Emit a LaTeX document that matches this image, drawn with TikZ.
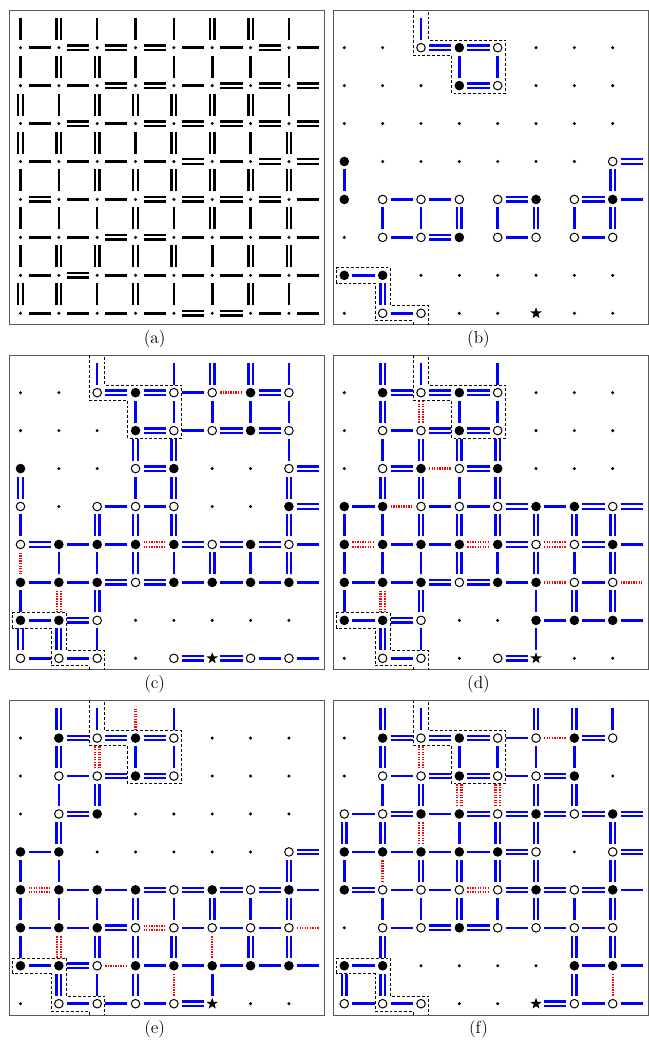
\documentclass[tikz,border=0pt]{standalone}
\usetikzlibrary{shapes.geometric}
\tikzset{
  sedge/.style={line width=1.9pt},
  dedge/.style={line width=1.75pt},
  redge/.style={draw=red, line width=1.8pt, dash pattern=on 1pt off 0.9pt},
  rdedge/.style={draw=red, line width=1.65pt, dash pattern=on 1pt off 0.9pt},
  region/.style={draw=black, line width=0.6pt, dash pattern=on 2.2pt off 1.5pt},
  panelframe/.style={draw=black!65, line width=0.8pt},
  starnode/.style={star, star points=5, star point ratio=2.5, fill=black, inner sep=0pt, minimum size=9pt},
  captionstyle/.style={font=\fontsize{13}{15}\selectfont},
}
\def\dd{0.058}
\def\ecol{blue}
% horizontal edges
\expandafter\def\csname hz0\endcsname#1#2{}
\expandafter\def\csname hz1\endcsname#1#2{\draw[sedge,draw=\ecol] (#1+0.21,#2) -- (#1+0.79,#2);}
\expandafter\def\csname hz2\endcsname#1#2{\draw[dedge,draw=\ecol] (#1+0.21,#2+\dd) -- (#1+0.79,#2+\dd) (#1+0.21,#2-\dd) -- (#1+0.79,#2-\dd);}
\expandafter\def\csname hzr\endcsname#1#2{\draw[redge] (#1+0.21,#2) -- (#1+0.79,#2);}
\expandafter\def\csname hzR\endcsname#1#2{\draw[rdedge] (#1+0.21,#2+\dd) -- (#1+0.79,#2+\dd) (#1+0.21,#2-\dd) -- (#1+0.79,#2-\dd);}
% vertical edges
\expandafter\def\csname vt0\endcsname#1#2{}
\expandafter\def\csname vt1\endcsname#1#2{\draw[sedge,draw=\ecol] (#1,#2+0.21) -- (#1,#2+0.79);}
\expandafter\def\csname vt2\endcsname#1#2{\draw[dedge,draw=\ecol] (#1+\dd,#2+0.21) -- (#1+\dd,#2+0.79) (#1-\dd,#2+0.21) -- (#1-\dd,#2+0.79);}
\expandafter\def\csname vtr\endcsname#1#2{\draw[redge] (#1,#2+0.21) -- (#1,#2+0.79);}
\expandafter\def\csname vtR\endcsname#1#2{\draw[rdedge] (#1+\dd,#2+0.21) -- (#1+\dd,#2+0.79) (#1-\dd,#2+0.21) -- (#1-\dd,#2+0.79);}
% vertices
\expandafter\def\csname vxd\endcsname#1#2{\fill[black] (#1,#2) circle[radius=1.25pt];}
\expandafter\def\csname vxo\endcsname#1#2{\draw[black,line width=0.75pt,fill=white] (#1,#2) circle[radius=3.2pt];}
\expandafter\def\csname vxf\endcsname#1#2{\fill[black] (#1,#2) circle[radius=3.6pt];}
\expandafter\def\csname vxs\endcsname#1#2{\node[starnode] (star) at (#1,#2) {};}
\newcommand\drawlattice[3]{%
  \foreach \hrow [count=\kk from 0] in {#2} {%
    \pgfmathtruncatemacro\rr{7-\kk}%
    \foreach \tt [count=\cc from 0] in \hrow {\csname hz\tt\endcsname{\cc}{\rr}}%
  }%
  \foreach \vrow [count=\kk from 0] in {#3} {%
    \pgfmathtruncatemacro\rr{7-\kk}%
    \foreach \tt [count=\cc from 0] in \vrow {\csname vt\tt\endcsname{\cc}{\rr}}%
  }%
  \foreach \prow [count=\kk from 0] in {#1} {%
    \pgfmathtruncatemacro\rr{7-\kk}%
    \foreach \tt [count=\cc from 0] in \prow {\csname vx\tt\endcsname{\cc}{\rr}}%
  }%
}
\newcommand\panelbox[1]{%
  \draw[panelframe] (-0.28,-0.3) rectangle (7.93,7.99);
  \node[captionstyle] (cap#1) at (3.5,-0.68) {(#1)};
}
\newcommand\regions{%
  \draw[region] (1.8,7.99) -- (1.8,6.8) -- (2.8,6.8) -- (2.8,5.8) -- (4.2,5.8) -- (4.2,7.2) -- (2.2,7.2) -- (2.2,7.99);
  \draw[region] (1.8,-0.3) -- (1.8,-0.2) -- (0.8,-0.2) -- (0.8,0.8) -- (-0.2,0.8) -- (-0.2,1.2) -- (1.2,1.2) -- (1.2,0.2) -- (2.2,0.2) -- (2.2,-0.3);
}
\begin{document}
\begin{tikzpicture}[x=0.75pt,y=-0.75pt]
\fill[white] (0,0) rectangle (649,1042);
\useasboundingbox (0,0) rectangle (649,1042);

% ---------------- (a)
\begin{scope}[shift={(20.5,313.3)},x=28.76pt,y=28.46pt]
\def\ecol{black}
\panelbox{a}
\drawlattice
{{d,d,d,d,d,d,d,d},{d,d,d,d,d,d,d,d},{d,d,d,d,d,d,d,d},{d,d,d,d,d,d,d,d},{d,d,d,d,d,d,d,d},{d,d,d,d,d,d,d,d},{d,d,d,d,d,d,d,d},{d,d,d,d,d,d,d,d}}
{{1,2,2,2,1,1,2,1},{1,1,2,2,1,2,2,2},{1,2,1,2,2,2,2,2},{1,1,1,1,2,1,2,2},{2,1,1,2,2,2,2,1},{1,1,2,2,1,1,1,1},{1,2,1,1,1,1,1,1},{1,1,1,1,2,2,1,1}}
{{1,2,1,1,1,2,2,1},{1,2,2,1,1,1,1,1},{2,1,2,2,2,2,2,1},{2,2,2,1,2,2,1,2},{1,1,2,2,2,2,2,2},{1,1,1,2,1,2,1,2},{1,2,2,2,2,1,2,2},{2,2,1,2,1,1,2,1}}
\end{scope}

% ---------------- (b)
\begin{scope}[shift={(344.3,313.3)},x=28.76pt,y=28.46pt]
\panelbox{b}
\regions
\drawlattice
{{d,d,o,f,o,d,d,d},{d,d,d,f,o,d,d,d},{d,d,d,d,d,d,d,d},{f,d,d,d,d,d,d,o},{f,o,o,o,o,f,o,f},{d,o,o,f,o,o,o,o},{f,f,d,d,d,d,d,d},{d,o,o,d,d,s,d,d}}
{{0,0,2,2,0,0,0,0},{0,0,0,2,0,0,0,0},{0,0,0,0,0,0,0,0},{0,0,0,0,0,0,0,2},{0,1,1,0,2,0,2,1},{0,1,2,0,1,0,1,0},{1,0,0,0,0,0,0,0},{0,1,0,0,0,0,0,0}}
{{0,0,1,0,0,0,0,0},{0,0,0,1,1,0,0,0},{0,0,0,0,0,0,0,0},{0,0,0,0,0,0,0,0},{1,0,0,0,0,0,0,2},{0,1,1,2,1,2,1,2},{0,0,0,0,0,0,0,0},{0,2,0,0,0,0,0,0}}
\end{scope}

% ---------------- (c)
\begin{scope}[shift={(20.5,658.3)},x=28.76pt,y=28.46pt]
\panelbox{c}
\regions
\drawlattice
{{d,d,o,f,o,o,f,o},{d,d,d,f,o,o,f,o},{f,d,d,o,f,d,d,o},{o,d,o,o,o,d,d,f},{o,f,f,f,f,o,f,o},{f,f,f,o,f,f,f,f},{f,f,o,d,d,d,d,d},{o,o,o,d,o,s,o,o}}
{{0,0,2,2,1,r,2,0},{0,0,0,2,1,2,2,0},{0,0,0,2,0,0,0,2},{0,0,1,1,0,0,0,2},{2,1,1,R,2,2,2,1},{1,1,2,2,1,1,1,1},{1,2,0,0,0,0,0,0},{1,1,0,0,2,2,1,1}}
{{0,0,1,0,1,2,2,1},{0,0,0,1,1,1,1,1},{0,0,0,2,2,0,0,1},{2,0,0,1,2,0,0,2},{1,0,2,2,2,0,0,2},{r,1,1,2,1,2,1,2},{1,R,2,0,0,0,0,0},{2,2,1,0,0,0,0,0}}
\end{scope}

% ---------------- (d)
\begin{scope}[shift={(344.3,658.3)},x=28.76pt,y=28.46pt]
\panelbox{d}
\regions
\drawlattice
{{d,f,o,f,o,d,d,d},{d,o,o,f,o,d,d,d},{d,o,f,o,f,d,d,d},{f,f,o,o,o,f,f,o},{f,f,f,f,f,o,o,f},{f,f,f,o,f,f,o,o},{f,f,o,d,d,f,f,f},{d,o,o,d,o,s,d,d}}
{{0,2,2,2,0,0,0,0},{0,1,2,2,0,0,0,0},{0,2,r,2,0,0,0,0},{1,r,1,1,2,1,2,2},{R,1,1,R,2,R,2,1},{1,1,2,2,1,r,1,r},{1,2,0,0,0,1,1,1},{0,1,0,0,2,0,0,0}}
{{0,2,1,0,1,0,0,0},{0,2,R,1,1,0,0,0},{0,1,2,2,2,0,0,0},{0,2,2,1,2,0,0,0},{1,1,2,2,2,2,2,2},{1,1,1,2,1,2,1,2},{1,R,2,0,0,1,2,2},{0,2,1,0,0,1,0,0}}
\end{scope}

% ---------------- (e)
\begin{scope}[shift={(20.5,1003.7)},x=28.76pt,y=28.46pt]
\panelbox{e}
\regions
\drawlattice
{{d,f,o,f,o,d,d,d},{d,o,o,f,o,d,d,d},{d,o,f,d,d,d,d,d},{f,f,d,d,d,d,d,o},{f,f,f,f,o,f,o,f},{f,f,f,o,o,o,o,o},{f,f,o,f,f,f,f,f},{d,o,o,o,o,s,d,d}}
{{0,2,2,2,0,0,0,0},{0,1,2,2,0,0,0,0},{0,2,0,0,0,0,0,0},{1,0,0,0,0,0,0,2},{R,1,1,2,2,2,2,1},{1,1,2,R,1,1,1,r},{1,2,r,1,1,1,1,1},{0,1,1,1,2,0,0,0}}
{{0,2,1,r,1,0,0,0},{0,2,R,1,1,0,0,0},{0,1,2,0,0,0,0,0},{0,2,0,0,0,0,0,0},{1,1,0,0,0,0,0,2},{1,1,1,2,1,2,1,2},{1,R,2,2,2,r,2,2},{0,2,1,2,r,1,0,0}}
\end{scope}

% ---------------- (f)
\begin{scope}[shift={(344.3,1003.7)},x=28.76pt,y=28.46pt]
\panelbox{f}
\regions
\drawlattice
{{d,f,o,f,o,o,f,o},{d,o,o,f,o,o,f,d},{o,o,f,f,o,f,o,f},{f,f,f,f,f,o,d,o},{f,o,o,o,o,f,o,f},{d,o,o,f,o,o,o,o},{f,f,d,d,d,d,f,f},{o,o,o,d,d,s,o,o}}
{{0,2,2,2,1,r,2,0},{0,1,2,2,1,2,0,0},{1,2,1,2,2,2,2,2},{1,1,1,1,2,0,0,2},{2,1,1,R,2,2,2,1},{0,1,2,2,1,1,1,0},{1,0,0,0,0,0,1,1},{1,1,0,0,0,2,1,1}}
{{0,2,1,0,0,2,2,1},{0,2,R,1,1,1,1,0},{0,1,2,R,R,2,2,0},{2,2,R,1,2,2,0,2},{1,r,2,2,2,2,0,2},{0,1,1,2,1,2,1,2},{0,2,0,0,0,0,2,2},{2,2,0,0,0,0,2,r}}
\end{scope}
\end{tikzpicture}
\end{document}
